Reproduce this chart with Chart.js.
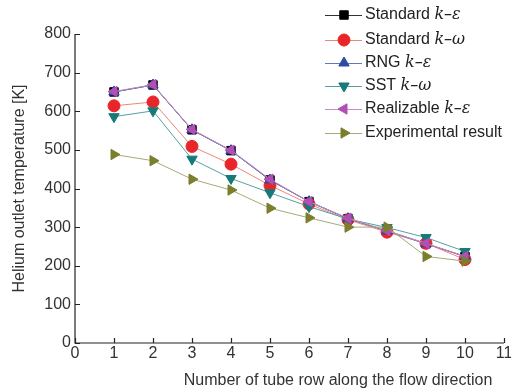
<!DOCTYPE html>
<html>
<head>
<meta charset="utf-8">
<script src="https://cdn.jsdelivr.net/npm/chart.js"></script>
<style>
  html, body { margin: 0; padding: 0; background: #fff; }
  #wrap { width: 511px; height: 392px; }
</style>
</head>
<body>
<div id="wrap"><canvas id="tempChart" width="511" height="392"></canvas></div>
<script>
// チューブ列番号
const rows = [1, 2, 3, 4, 5, 6, 7, 8, 9, 10];
// 各乱流モデルのヘリウム出口温度 [K]
const standardKE = [650, 668, 552, 498, 422, 366, 322, 290, 257, 224];
const standardKW = [614, 624, 509, 463, 408, 360, 319, 287, 258, 216];
const rngKE = [650, 668, 552, 498, 422, 366, 322, 290, 257, 224];
const sstKW = [586, 601, 476, 426, 389, 353, 321, 299, 273, 237];
const realizableKE = [651, 669, 553, 499, 424, 366, 323, 291, 258, 224];
const experimental = [488, 472, 424, 396, 349, 324, 300, 300, 224, 212];

const xTicks = [0, 1, 2, 3, 4, 5, 6, 7, 8, 9, 10, 11];
const yTicks = [0, 100, 200, 300, 400, 500, 600, 700, 800];

const FONT = "'Liberation Sans', Arial, sans-serif";

function pts(arr) {
    return arr.map((v, i) => ({ x: rows[i], y: v }));
}

const series = [
    { name: "Standard ", sym: "k\u2013\u03b5", data: standardKE, line: "#333333", fill: "#000000", style: "rect", rot: 0, order: 5 },
    { name: "Standard ", sym: "k\u2013\u03c9", data: standardKW, line: "#ee8877", fill: "#e8262a", style: "circle", rot: 0, order: 4 },
    { name: "RNG ", sym: "k\u2013\u03b5", data: rngKE, line: "#6677bb", fill: "#2b4ba3", style: "triangle", rot: 0, order: 3 },
    { name: "SST ", sym: "k\u2013\u03c9", data: sstKW, line: "#55a0a0", fill: "#157a78", style: "triangle", rot: 180, order: 2 },
    { name: "Realizable ", sym: "k\u2013\u03b5", data: realizableKE, line: "#c88ac8", fill: "#b24fb4", style: "triangle", rot: 270, order: 1 },
    { name: "Experimental result", sym: "", data: experimental, line: "#aaa878", fill: "#7b7f2c", style: "triangle", rot: 90, order: 0 },
];

// 内側向きの目盛り線
const innerTicks = {
    id: "innerTicks",
    afterDraw(chart) {
        const ctx = chart.ctx;
        const x = chart.scales.x, y = chart.scales.y;
        const a = chart.chartArea;
        ctx.save();
        ctx.strokeStyle = "#222";
        ctx.lineWidth = 1.2;
        ctx.beginPath();
        ctx.moveTo(a.left, a.top);
        ctx.lineTo(a.left, a.bottom);
        ctx.lineTo(a.right, a.bottom);
        xTicks.forEach(t => {
            const px = Math.round(x.getPixelForValue(t)) + 0.5;
            ctx.moveTo(px, a.bottom);
            ctx.lineTo(px, a.bottom - 5);
        });
        yTicks.forEach(t => {
            const py = Math.round(y.getPixelForValue(t)) + 0.5;
            ctx.moveTo(a.left, py);
            ctx.lineTo(a.left + 5, py);
        });
        ctx.stroke();
        // x軸タイトル
        ctx.fillStyle = "#333";
        ctx.font = "16px " + FONT;
        ctx.textAlign = "center";
        ctx.textBaseline = "middle";
        ctx.fillText("Number of tube row along the flow direction", 338, 381);
        ctx.restore();
    }
};

// 凡例
const legendBox = {
    id: "legendBox",
    afterDraw(chart) {
        const ctx = chart.ctx;
        const lx = 325, ys = [15, 40, 63, 86, 109, 133];
        ctx.save();
        series.forEach((s, i) => {
            const y = ys[i];
            ctx.strokeStyle = s.line;
            ctx.lineWidth = 1;
            ctx.beginPath();
            ctx.moveTo(lx, y + 0.5);
            ctx.lineTo(lx + 37, y + 0.5);
            ctx.stroke();
            const opts = { pointStyle: s.style, radius: 6, rotation: s.rot, borderWidth: 1 };
            ctx.fillStyle = s.fill;
            ctx.strokeStyle = s.fill;
            Chart.helpers.drawPoint(ctx, opts, lx + 19, y);
            ctx.fillStyle = "#222";
            ctx.textAlign = "left";
            ctx.textBaseline = "middle";
            ctx.font = "16px " + FONT;
            ctx.fillText(s.name, lx + 40, y);
            if (s.sym) {
                const w = ctx.measureText(s.name).width;
                ctx.font = "italic 16px 'DejaVu Serif', serif";
                ctx.fillText(s.sym, lx + 40 + w, y);
            }
        });
        ctx.restore();
    }
};

new Chart(document.getElementById("tempChart").getContext("2d"), {
    type: "line",
    data: {
        datasets: series.map(s => ({
            label: s.name + s.sym,
            data: pts(s.data),
            borderColor: s.line,
            borderWidth: 1,
            backgroundColor: s.fill,
            pointBackgroundColor: s.fill,
            pointBorderColor: s.fill,
            pointStyle: s.style,
            pointRotation: s.rot,
            pointRadius: 6,
            order: s.order,
            fill: false,
        })),
    },
    options: {
        responsive: false,
        animation: false,
        layout: { padding: { top: 34, right: 5, left: 0, bottom: 0 } },
        plugins: { legend: { display: false }, tooltip: { enabled: false } },
        scales: {
            x: {
                type: "linear",
                min: 0,
                max: 11,
                afterBuildTicks: sc => { sc.ticks = xTicks.map(v => ({ value: v })); },
                afterFit: sc => { sc.height = 49; sc.paddingLeft = 0; sc.paddingRight = 0; },
                grid: { display: false, drawTicks: false },
                border: { display: false },
                ticks: { color: "#333", font: { family: FONT, size: 16 }, padding: 1, maxRotation: 0, autoSkip: false },
            },
            y: {
                min: 0,
                max: 800,
                afterBuildTicks: sc => { sc.ticks = yTicks.map(v => ({ value: v })); },
                afterFit: sc => { sc.width = 75; sc.paddingTop = 0; sc.paddingBottom = 0; },
                grid: { display: false, drawTicks: false },
                border: { display: false },
                ticks: { color: "#333", font: { family: FONT, size: 16 }, padding: 4 },
                title: { display: true, text: "Helium outlet temperature [K]", color: "#333", font: { family: FONT, size: 16 }, padding: { top: 10, bottom: 0 } },
            },
        },
    },
    plugins: [innerTicks, legendBox],
});
</script>
</body>
</html>
